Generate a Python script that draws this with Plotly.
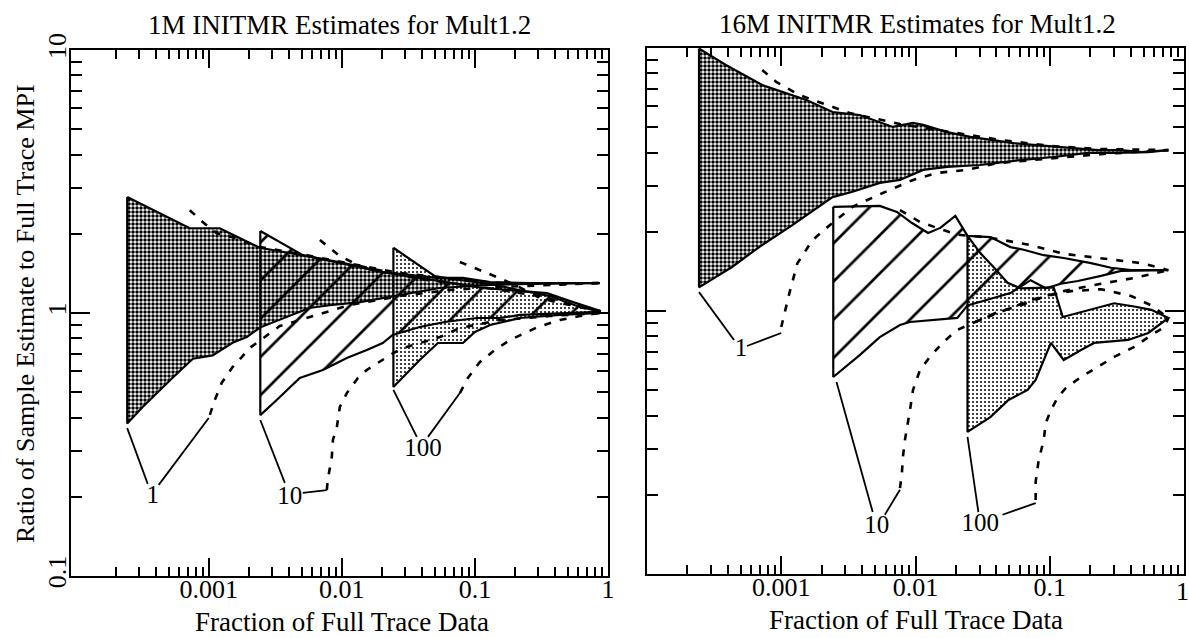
import plotly.graph_objects as go

FONT = "Liberation Serif"

# ---------------- 1M INITMR (left panel) ----------------
# group "1"
m1_g1_hi_x = [0.000244, 0.00072, 0.00121, 0.00242, 0.0036, 0.0065, 0.0097, 0.0137, 0.0203, 0.031, 0.052, 0.081, 0.13, 0.26, 0.46, 0.87]
m1_g1_hi_y = [2.76, 2.10, 2.10, 1.77, 1.71, 1.62, 1.56, 1.50, 1.43, 1.40, 1.36, 1.36, 1.31, 1.30, 1.30, 1.30]
m1_g1_lo_x = [0.000244, 0.00032, 0.00054, 0.00076, 0.00107, 0.00151, 0.00193, 0.00242, 0.0057, 0.0081, 0.0137, 0.0203, 0.0366, 0.0546, 0.13, 0.26, 0.87]
m1_g1_lo_y = [0.38, 0.44, 0.57, 0.67, 0.69, 0.77, 0.81, 0.88, 1.045, 1.07, 1.10, 1.14, 1.20, 1.245, 1.28, 1.29, 1.30]
m1_g1_dhi_x = [0.00072, 0.0009, 0.00115, 0.00157, 0.00242, 0.0048, 0.0115, 0.0273, 0.065, 0.154, 0.366, 0.87]
m1_g1_dhi_y = [2.46, 2.22, 2.01, 1.93, 1.78, 1.68, 1.54, 1.42, 1.35, 1.30, 1.29, 1.30]
m1_g1_dlo_x = [0.00102, 0.00111, 0.00125, 0.00151, 0.00177, 0.00203, 0.00342, 0.00605, 0.0115, 0.0273, 0.065, 0.154, 0.87]
m1_g1_dlo_y = [0.41, 0.467, 0.542, 0.623, 0.68, 0.736, 0.892, 0.974, 1.073, 1.16, 1.223, 1.256, 1.30]

# group "10"
m1_g10_hi_x = [0.00244, 0.00509, 0.00966, 0.0203, 0.0385, 0.0771, 0.115, 0.193, 0.348, 0.546, 0.87]
m1_g10_hi_y = [2.05, 1.66, 1.55, 1.43, 1.36, 1.29, 1.245, 1.22, 1.19, 1.10, 1.02]
m1_g10_lo_x = [0.00244, 0.00324, 0.00483, 0.0072, 0.0109, 0.0154, 0.0203, 0.0241, 0.0385, 0.0594, 0.1035, 0.154, 0.218, 0.459, 0.87]
m1_g10_lo_y = [0.409, 0.467, 0.566, 0.607, 0.674, 0.723, 0.769, 0.825, 0.885, 0.924, 0.957, 0.957, 0.983, 1.0, 1.01]
m1_g10_dhi_x = [0.00684, 0.00966, 0.01365, 0.0385, 0.109, 0.308, 0.585, 0.87]
m1_g10_dhi_y = [1.895, 1.647, 1.509, 1.347, 1.256, 1.16, 1.063, 1.018]
m1_g10_dlo_x = [0.00771, 0.00784, 0.00841, 0.00857, 0.00918, 0.00966, 0.0109, 0.0132, 0.0154, 0.0193, 0.023, 0.0288, 0.0385, 0.0546, 0.0771, 0.154, 0.366, 0.87]
m1_g10_dlo_y = [0.212, 0.232, 0.284, 0.329, 0.369, 0.439, 0.496, 0.566, 0.607, 0.651, 0.692, 0.736, 0.769, 0.810, 0.877, 0.940, 0.974, 1.0]

# group "100"
m1_g100_hi_x = [0.0244, 0.0354, 0.050, 0.0771, 0.13, 0.218, 0.366, 0.565, 0.87]
m1_g100_hi_y = [1.77, 1.56, 1.38, 1.335, 1.29, 1.22, 1.16, 1.07, 1.01]
m1_g100_lo_x = [0.0244, 0.0385, 0.0527, 0.0813, 0.100, 0.130, 0.218, 0.435, 0.87]
m1_g100_lo_y = [0.523, 0.663, 0.769, 0.769, 0.847, 0.900, 0.957, 0.983, 1.0]
m1_g100_dhi_x = [0.0771, 0.109, 0.146, 0.200, 0.308, 0.435, 0.615, 0.87]
m1_g100_dhi_y = [1.563, 1.457, 1.370, 1.278, 1.140, 1.091, 1.054, 1.009]
m1_g100_dlo_x = [0.0771, 0.0885, 0.109, 0.141, 0.183, 0.246, 0.298, 0.435, 0.615, 0.87]
m1_g100_dlo_y = [0.496, 0.566, 0.651, 0.723, 0.789, 0.847, 0.885, 0.940, 0.974, 1.0]

# callout leaders and labels
m1_lead_x = [0.000244, 0.000348, None, 0.000421, 0.001, None,
             0.00244, 0.00373, None, 0.00509, 0.00771, None,
             0.0244, 0.0366, None, 0.0444, 0.0771]
m1_lead_y = [0.365, 0.224, None, 0.222, 0.399, None,
             0.392, 0.226, None, 0.207, 0.212, None,
             0.510, 0.338, None, 0.338, 0.496]
m1_lab_x = [0.000379, 0.00406, 0.0407]
m1_lab_y = [0.200, 0.198, 0.301]

# ---------------- 16M INITMR (right panel) ----------------
m16_g1_hi_x = [0.000244, 0.000387, 0.000721, 0.00109, 0.00154, 0.00241, 0.00384, 0.00678, 0.00958, 0.0114, 0.0172, 0.0256, 0.0381, 0.0537, 0.0759, 0.115, 0.151, 0.229, 0.340, 0.481, 0.765]
m16_g1_hi_y = [9.95, 8.62, 7.23, 6.74, 6.34, 5.71, 5.56, 5.01, 5.19, 5.10, 4.79, 4.59, 4.47, 4.35, 4.28, 4.20, 4.17, 4.09, 4.09, 4.02, 4.09]
m16_g1_lo_x = [0.000244, 0.00043, 0.000684, 0.00121, 0.00241, 0.0034, 0.00542, 0.00766, 0.0114, 0.0172, 0.0304, 0.0606, 0.107, 0.193, 0.302, 0.542, 0.765]
m16_g1_lo_y = [1.23, 1.47, 1.75, 2.12, 2.71, 2.84, 3.07, 3.15, 3.44, 3.53, 3.59, 3.75, 3.85, 3.99, 3.99, 4.02, 4.09]
m16_g1_dhi_x = [0.000721, 0.000917, 0.00136, 0.00323, 0.00766, 0.0181, 0.043, 0.102, 0.241, 0.765]
m16_g1_dhi_y = [8.25, 7.43, 6.63, 5.66, 5.14, 4.79, 4.47, 4.24, 4.13, 4.09]
m16_g1_dlo_x = [0.001, 0.00115, 0.00132, 0.00171, 0.00217, 0.0034, 0.00571, 0.00958, 0.0145, 0.0243, 0.0408, 0.0721, 0.115, 0.241, 0.765]
m16_g1_dlo_y = [0.869, 1.17, 1.52, 1.86, 2.07, 2.49, 2.81, 3.15, 3.35, 3.44, 3.65, 3.75, 3.82, 3.95, 4.09]

m16_g10_hi_x = [0.00244, 0.00542, 0.00727, 0.00942, 0.0124, 0.0153, 0.0198, 0.0244, 0.0361, 0.051, 0.0639, 0.0902, 0.127, 0.203, 0.286, 0.404, 0.765]
m16_g10_hi_y = [2.49, 2.51, 2.38, 2.16, 1.98, 2.07, 2.30, 1.93, 1.91, 1.75, 1.71, 1.63, 1.59, 1.52, 1.46, 1.43, 1.43]
m16_g10_lo_x = [0.00244, 0.00384, 0.00542, 0.00766, 0.0091, 0.0205, 0.0244, 0.0381, 0.051, 0.0721, 0.0933, 0.121, 0.162, 0.241, 0.34, 0.765]
m16_g10_lo_y = [0.561, 0.680, 0.796, 0.885, 0.908, 0.941, 1.05, 1.12, 1.17, 1.31, 1.22, 1.27, 1.30, 1.36, 1.42, 1.43]
m16_g10_dhi_x = [0.00766, 0.0108, 0.0153, 0.0205, 0.0361, 0.0721, 0.127, 0.241, 0.481, 0.765]
m16_g10_dhi_y = [2.42, 2.18, 2.05, 1.95, 1.90, 1.78, 1.65, 1.59, 1.52, 1.43]
m16_g10_dlo_x = [0.00766, 0.00792, 0.00806, 0.00834, 0.0091, 0.00958, 0.0108, 0.0128, 0.0161, 0.0205, 0.0289, 0.043, 0.0721, 0.127, 0.241, 0.441, 0.765]
m16_g10_dlo_y = [0.212, 0.242, 0.279, 0.323, 0.420, 0.501, 0.597, 0.669, 0.762, 0.847, 0.916, 0.99, 1.10, 1.19, 1.27, 1.34, 1.43]

m16_g100_hi_x = [0.0244, 0.0304, 0.0381, 0.0485, 0.0606, 0.107, 0.125, 0.193, 0.302, 0.426, 0.571, 0.765]
m16_g100_hi_y = [1.93, 1.66, 1.47, 1.28, 1.22, 1.23, 0.949, 1.01, 1.07, 1.04, 1.01, 0.941]
m16_g100_lo_x = [0.0244, 0.0361, 0.0493, 0.0684, 0.0785, 0.102, 0.127, 0.171, 0.214, 0.384, 0.542, 0.765]
m16_g100_lo_y = [0.347, 0.395, 0.459, 0.501, 0.547, 0.756, 0.651, 0.711, 0.756, 0.776, 0.825, 0.941]
m16_g100_dhi_x = [0.0279, 0.0394, 0.0606, 0.0933, 0.144, 0.241, 0.404, 0.571, 0.765]
m16_g100_dhi_y = [0.908, 0.983, 1.05, 1.14, 1.19, 1.21, 1.14, 1.05, 0.941]
m16_g100_dlo_x = [0.0785, 0.0785, 0.0827, 0.0902, 0.0933, 0.102, 0.115, 0.132, 0.171, 0.229, 0.302, 0.426, 0.571, 0.714, 0.765]
m16_g100_dlo_y = [0.191, 0.224, 0.271, 0.323, 0.375, 0.420, 0.471, 0.510, 0.561, 0.612, 0.669, 0.730, 0.810, 0.869, 0.941]

m16_lead_x = [0.000244, 0.000445, None, 0.000556, 0.001, None,
              0.00258, 0.0048, None, 0.00591, 0.00766, None,
              0.0244, 0.0294, None, 0.0445, 0.0785]
m16_lead_y = [1.18, 0.776, None, 0.736, 0.825, None,
              0.537, 0.172, None, 0.168, 0.209, None,
              0.332, 0.172, None, 0.168, 0.186]
m16_lab_x = [0.000502, 0.00515, 0.0304]
m16_lab_y = [0.711, 0.151, 0.154]

labels = ["1", "10", "100"]

# fill styles for the three sample-count groups
PAT_DARK = dict(shape=".", fgcolor="black", bgcolor="rgba(0,0,0,0)", size=4, solidity=0.6)
PAT_HATCH = dict(shape="/", fgcolor="black", bgcolor="rgba(0,0,0,0)", size=27, solidity=0.1)
PAT_LIGHT = dict(shape=".", fgcolor="black", bgcolor="rgba(0,0,0,0)", size=4, solidity=0.2)

fig = go.Figure()


def band(xa, ya, hx, hy, lx, ly, pattern):
    px = hx + lx[::-1] + [hx[0]]
    py = hy + ly[::-1] + [hy[0]]
    fig.add_trace(go.Scatter(x=px, y=py, xaxis=xa, yaxis=ya, mode="lines",
                             fill="toself", fillpattern=pattern, fillcolor="rgba(0,0,0,0)",
                             line=dict(width=0, color="rgba(0,0,0,0)"),
                             hoverinfo="skip", showlegend=False))
    return px, py


def outline(xa, ya, px, py):
    fig.add_trace(go.Scatter(x=px, y=py, xaxis=xa, yaxis=ya, mode="lines",
                             line=dict(color="black", width=2.2),
                             hoverinfo="skip", showlegend=False))


def dashed(xa, ya, x, y):
    fig.add_trace(go.Scatter(x=x, y=y, xaxis=xa, yaxis=ya, mode="lines",
                             line=dict(color="black", width=2.6, dash="7px,9px"),
                             hoverinfo="skip", showlegend=False))


panels = [
    ("x", "y",
     [(m1_g1_hi_x, m1_g1_hi_y, m1_g1_lo_x, m1_g1_lo_y, PAT_DARK),
      (m1_g10_hi_x, m1_g10_hi_y, m1_g10_lo_x, m1_g10_lo_y, PAT_HATCH),
      (m1_g100_hi_x, m1_g100_hi_y, m1_g100_lo_x, m1_g100_lo_y, PAT_LIGHT)],
     [(m1_g1_dhi_x, m1_g1_dhi_y), (m1_g1_dlo_x, m1_g1_dlo_y),
      (m1_g10_dhi_x, m1_g10_dhi_y), (m1_g10_dlo_x, m1_g10_dlo_y),
      (m1_g100_dhi_x, m1_g100_dhi_y), (m1_g100_dlo_x, m1_g100_dlo_y)],
     m1_lead_x, m1_lead_y, m1_lab_x, m1_lab_y),
    ("x2", "y2",
     [(m16_g1_hi_x, m16_g1_hi_y, m16_g1_lo_x, m16_g1_lo_y, PAT_DARK),
      (m16_g10_hi_x, m16_g10_hi_y, m16_g10_lo_x, m16_g10_lo_y, PAT_HATCH),
      (m16_g100_hi_x, m16_g100_hi_y, m16_g100_lo_x, m16_g100_lo_y, PAT_LIGHT)],
     [(m16_g1_dhi_x, m16_g1_dhi_y), (m16_g1_dlo_x, m16_g1_dlo_y),
      (m16_g10_dhi_x, m16_g10_dhi_y), (m16_g10_dlo_x, m16_g10_dlo_y),
      (m16_g100_dhi_x, m16_g100_dhi_y), (m16_g100_dlo_x, m16_g100_dlo_y)],
     m16_lead_x, m16_lead_y, m16_lab_x, m16_lab_y),
]

for xa, ya, groups, dashes, lead_x, lead_y, lab_x, lab_y in panels:
    shapes = [band(xa, ya, *g) for g in groups]
    for px, py in shapes:
        outline(xa, ya, px, py)
    for dx, dy in dashes:
        dashed(xa, ya, dx, dy)
    fig.add_trace(go.Scatter(x=lead_x, y=lead_y, xaxis=xa, yaxis=ya, mode="lines",
                             line=dict(color="black", width=1.8), connectgaps=False,
                             hoverinfo="skip", showlegend=False))
    fig.add_trace(go.Scatter(x=lab_x, y=lab_y, xaxis=xa, yaxis=ya, mode="text",
                             text=labels, textposition="middle center",
                             textfont=dict(family=FONT, size=25, color="black"),
                             hoverinfo="skip", showlegend=False))

# axis styling
x_minor = [k * 10 ** e for e in (-4, -3, -2, -1) for k in range(2, 10)]
y_minor = [k * 10 ** e for e in (-1, 0) for k in range(2, 10)]

xcommon = dict(type="log", automargin=False, showgrid=False, zeroline=False, showline=True,
               linecolor="black", linewidth=2, mirror="allticks",
               ticks="inside", ticklen=18, tickwidth=2, tickcolor="black",
               ticklabelstandoff=-11, ticklabeloverflow="allow",
               tickfont=dict(family=FONT, size=26, color="black"),
               minor=dict(ticks="inside", ticklen=9, tickwidth=2, tickcolor="black",
                          tickvals=x_minor, showgrid=False))
ycommon = dict(type="log", range=[-1, 1], automargin=False, showgrid=False, zeroline=False, showline=True,
               linecolor="black", linewidth=2, mirror="allticks",
               ticks="inside", ticklen=19, tickwidth=2, tickcolor="black",
               tickvals=[0.1, 1, 10], ticktext=["0.1", "1", "10"],
               ticklabelstandoff=-7, ticklabeloverflow="allow",
               tickfont=dict(family=FONT, size=26, color="black"),
               minor=dict(ticks="inside", ticklen=11, tickwidth=2, tickcolor="black",
                          tickvals=y_minor, showgrid=False))

W, H = 1189, 638
TXT = dict(xref="paper", yref="paper", showarrow=False, xanchor="center", yanchor="middle")
fig.update_layout(
    template="none",
    width=W, height=H, autosize=False, margin=dict(l=0, r=0, t=0, b=0, pad=0),
    paper_bgcolor="white", plot_bgcolor="white", showlegend=False,
    font=dict(family=FONT, size=26, color="black"),
    xaxis=dict(domain=[71 / W, 608 / W], anchor="y", range=[-4.035, 0],
               tickvals=[0.001, 0.01, 0.1, 1], ticktext=["0.001", "0.01", "0.1", "1"], **xcommon),
    yaxis=dict(domain=[(H - 576) / H, (H - 50) / H], anchor="x", tickangle=-90, **ycommon),
    # the "1" of the right-hand axis sits on the page edge and is placed as an annotation
    xaxis2=dict(domain=[647 / W, 1184 / W], anchor="y2", range=[-4, 0],
                tickvals=[0.001, 0.01, 0.1], ticktext=["0.001", "0.01", "0.1"], **xcommon),
    yaxis2=dict(domain=[(H - 574) / H, (H - 48) / H], anchor="x2", showticklabels=False, **ycommon),
    annotations=[
        dict(text="1M INITMR Estimates for Mult1.2", x=339 / W, y=1 - 25 / H,
             font=dict(family=FONT, size=27), **TXT),
        dict(text="16M INITMR Estimates for Mult1.2", x=917 / W, y=1 - 24 / H,
             font=dict(family=FONT, size=27), **TXT),
        dict(text="Fraction of Full Trace Data", x=342 / W, y=1 - 622 / H,
             font=dict(family=FONT, size=27), **TXT),
        dict(text="Fraction of Full Trace Data", x=916 / W, y=1 - 620 / H,
             font=dict(family=FONT, size=27), **TXT),
        dict(text="Ratio of Sample Estimate to Full Trace MPI", x=25 / W, y=1 - 314 / H,
             textangle=-90, font=dict(family=FONT, size=26), **TXT),
        dict(text="1", x=1182 / W, y=1 - 591 / H, font=dict(family=FONT, size=26), **TXT),
    ],
)

fig.write_html("out.html", config={"displayModeBar": False})
